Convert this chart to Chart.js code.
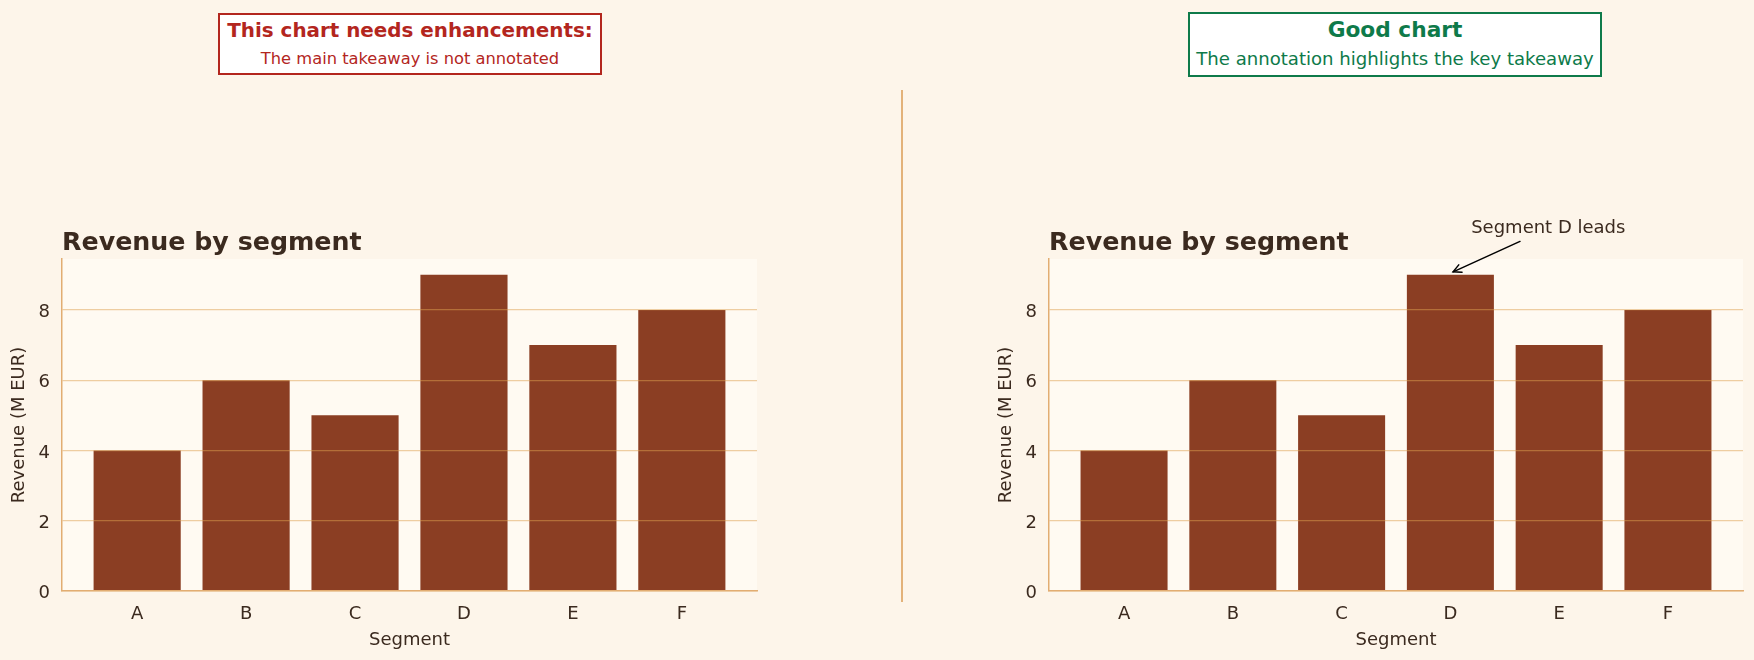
<!DOCTYPE html>
<html><head><meta charset="utf-8">
<script src="https://cdn.jsdelivr.net/npm/chart.js@4"></script>
<style>
html,body{margin:0;padding:0;background:#fdf5ea;}
body{width:1754px;height:660px;position:relative;overflow:hidden;font-family:"DejaVu Sans",sans-serif;}
.box{position:absolute;background:#ffffff;border:2px solid;box-sizing:border-box;}
.line{position:absolute;text-align:center;line-height:1;white-space:nowrap;}
canvas{position:absolute;top:0;}
#divider{position:absolute;left:901px;top:90px;width:2px;height:512px;background:#e3b27a;}
</style>
</head><body>
<div class="box" style="left:218px;top:13px;width:384px;height:62px;border-color:#b3261e;"></div>
<div class="line" style="left:218px;width:384px;top:21px;font-size:19.9px;font-weight:bold;color:#b3261e;">This chart needs enhancements:</div>
<div class="line" style="left:218px;width:384px;top:50.5px;font-size:16.3px;color:#b3261e;">The main takeaway is not annotated</div>

<div class="box" style="left:1188px;top:12px;width:414px;height:65px;border-color:#0e7a4a;"></div>
<div class="line" style="left:1188px;width:414px;top:19.2px;font-size:21.7px;font-weight:bold;color:#0e7a4a;">Good chart</div>
<div class="line" style="left:1188px;width:414px;top:49.5px;font-size:18.1px;color:#0e7a4a;">The annotation highlights the key takeaway</div>

<div id="divider"></div>
<canvas id="c1" width="877" height="660" style="left:0px"></canvas>
<canvas id="c2" width="877" height="660" style="left:877px"></canvas>
<script>
// ---- data ----
const categories = ['A', 'B', 'C', 'D', 'E', 'F'];
const revenue = [4, 6, 5, 9, 7, 8];
const yTicks = [0, 2, 4, 6, 8];
const chartTitle = 'Revenue by segment';
const xTitle = 'Segment';
const yTitle = 'Revenue (M EUR)';
const annoText = 'Segment D leads';
const annoTextAt = [3.90, 10.18];
const annoArrowFrom = [3.64, 9.95];
const annoArrowTo = [3.0, 9.05];

// ---- styles ----
const TXT = '#3b2a1f';
const BAR = '#8b3e23';
const SPINE = '#e2ad72';
const GRID = 'rgba(222,160,80,0.5)';
const PLOTBG = '#fffaf2';
const FONT = '"DejaVu Sans", sans-serif';
const LBL = 18;

const plotBg = {
  id: 'plotBg',
  beforeDraw(chart) {
    const a = chart.chartArea, ctx = chart.ctx;
    ctx.save(); ctx.fillStyle = PLOTBG;
    ctx.fillRect(a.left, a.top, a.right - a.left, a.bottom - a.top);
    ctx.restore();
  }
};
const leftTitle = {
  id: 'leftTitle',
  afterDraw(chart) {
    const ctx = chart.ctx;
    ctx.save();
    ctx.font = 'bold 25.3px ' + FONT;
    ctx.fillStyle = TXT; ctx.textAlign = 'left'; ctx.textBaseline = 'alphabetic';
    ctx.fillText(chartTitle, chart.chartArea.left, chart.chartArea.top - 9);
    ctx.restore();
  }
};
const annotation = {
  id: 'annotation',
  afterDraw(chart) {
    const ctx = chart.ctx, xs = chart.scales.x, ys = chart.scales.y;
    ctx.save();
    ctx.font = LBL + 'px ' + FONT;
    ctx.fillStyle = TXT; ctx.textAlign = 'center'; ctx.textBaseline = 'alphabetic';
    ctx.fillText(annoText, xs.getPixelForValue(annoTextAt[0]), ys.getPixelForValue(annoTextAt[1]));
    const x0 = xs.getPixelForValue(annoArrowFrom[0]), y0 = ys.getPixelForValue(annoArrowFrom[1]);
    let x1 = xs.getPixelForValue(annoArrowTo[0]), y1 = ys.getPixelForValue(annoArrowTo[1]);
    const dx = x1 - x0, dy = y1 - y0, L = Math.hypot(dx, dy), ux = dx / L, uy = dy / L;
    x1 -= ux * 3; y1 -= uy * 3;
    ctx.strokeStyle = '#000'; ctx.lineWidth = 1.5; ctx.lineCap = 'round';
    ctx.beginPath(); ctx.moveTo(x0, y0); ctx.lineTo(x1, y1); ctx.stroke();
    const hl = 8, hw = 4;
    ctx.beginPath();
    ctx.moveTo(x1 - ux * hl - uy * hw, y1 - uy * hl + ux * hw);
    ctx.lineTo(x1, y1);
    ctx.lineTo(x1 - ux * hl + uy * hw, y1 - uy * hl - ux * hw);
    ctx.stroke();
    ctx.restore();
  }
};

function makeChart(id, padL, padR, withAnno) {
  const plugins = [plotBg, leftTitle];
  if (withAnno) plugins.push(annotation);
  return new Chart(document.getElementById(id), {
    type: 'bar',
    data: {
      datasets: [{
        data: categories.map((c, i) => ({x: i, y: revenue[i]})),
        backgroundColor: BAR, borderWidth: 0,
        categoryPercentage: 0.8, barPercentage: 1.0
      }]
    },
    plugins,
    options: {
      responsive: false, animation: false, devicePixelRatio: 1,
      layout: {padding: {left: padL, right: padR, top: 259, bottom: 0}},
      plugins: {legend: {display: false}, tooltip: {enabled: false}, title: {display: false}},
      scales: {
        x: {
          type: 'linear', min: -0.69, max: 5.69, offset: false,
          afterBuildTicks: s => { s.ticks = categories.map((c, i) => ({value: i})); },
          afterFit: s => { s.height = 69; },
          ticks: {callback: v => categories[v], color: TXT, padding: 13, font: {family: FONT, size: LBL}, maxRotation: 0, autoSkip: false},
          grid: {display: false, drawTicks: false, offset: false},
          border: {display: true, color: SPINE, width: 1.5, z: 2},
          title: {display: true, text: xTitle, color: TXT, font: {family: FONT, size: LBL}, padding: {top: 0, bottom: 9}}
        },
        y: {
          type: 'linear', min: 0, max: 9.45,
          afterBuildTicks: s => { s.ticks = yTicks.map(v => ({value: v})); },
          afterFit: s => { s.width = 62; },
          ticks: {color: TXT, padding: 12, labelOffset: 2.5, font: {family: FONT, size: LBL}},
          grid: {color: GRID, lineWidth: 1.2, drawTicks: false, z: 1},
          border: {display: true, color: SPINE, width: 1.5, z: 2},
          title: {display: true, text: yTitle, color: TXT, font: {family: FONT, size: LBL}, padding: {top: 8.5, bottom: 0}}
        }
      }
    }
  });
}
makeChart('c1', 0, 120, false);
makeChart('c2', 110, 11, true);
</script>
</body></html>
